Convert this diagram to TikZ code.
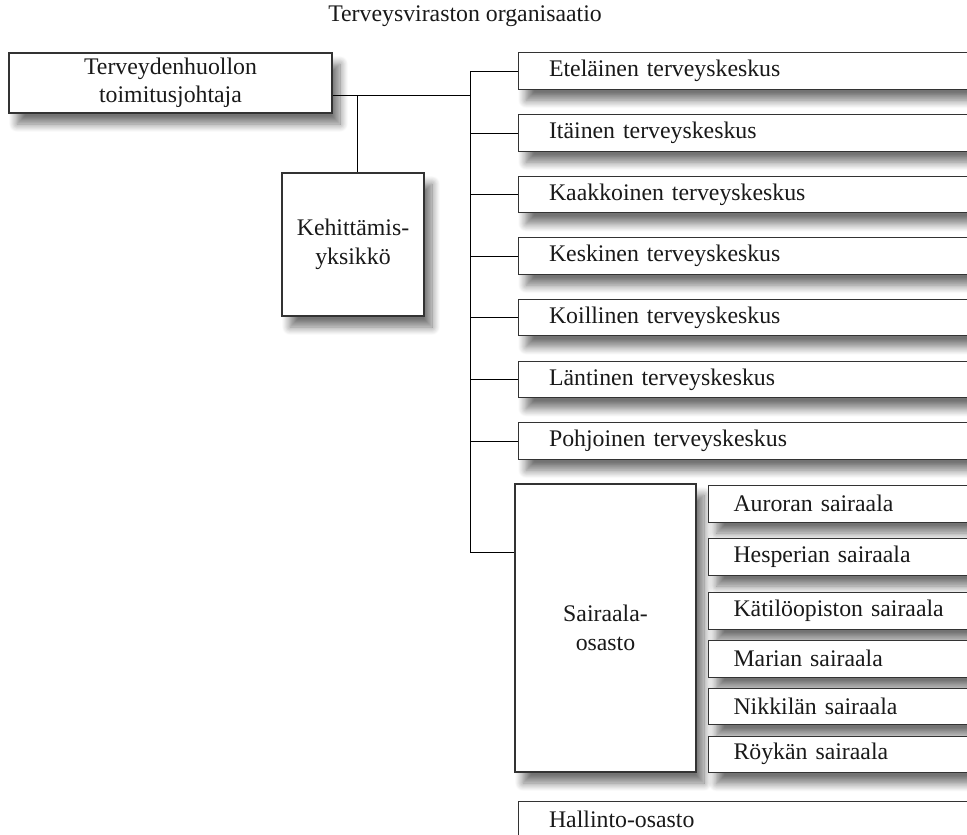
\documentclass[tikz,border=0pt]{standalone}
\usepackage{fontspec}
\setmainfont{Liberation Serif}
\usetikzlibrary{shadows.blur}
\begin{document}
\begin{tikzpicture}[x=1pt,y=-1pt,
  every node/.style={font=\fontsize{23.8}{28.5}\selectfont, text=black!90},
  box/.style={draw=black!80, line width=1.1pt, fill=white, inner sep=0pt,
    blur shadow={shadow xshift=8pt, shadow yshift=-11pt, shadow blur radius=8pt, shadow opacity=55, shadow blur steps=12}},
  cbox/.style={box, align=center},
  wbox/.style={box, anchor=west, minimum width=480pt, minimum height=36.5pt,
    text width=418pt, inner xsep=31pt, align=left},
  hbox/.style={box, anchor=north west, minimum width=300pt, minimum height=36.5pt,
    text width=250pt, inner xsep=25pt, align=left},
  conn/.style={draw=black, line width=1pt}]
\useasboundingbox (0,0) rectangle (967,835);

\node (title) at (465,16) {Terveysviraston organisaatio};

\node[cbox, minimum width=323pt, minimum height=60pt] (top) at (170.5,83)
  {Terveydenhuollon\\toimitusjohtaja};
\node[cbox, minimum width=142pt, minimum height=143pt] (keh) at (353,244.5)
  {Kehittämis-\\yksikkö};

\node[wbox] (ete) at (517.5,71) {Eteläinen terveyskeskus};
\node[wbox] (ita) at (517.5,133) {Itäinen terveyskeskus};
\node[wbox] (kaa) at (517.5,194.5) {Kaakkoinen terveyskeskus};
\node[wbox] (kes) at (517.5,256) {Keskinen terveyskeskus};
\node[wbox] (koi) at (517.5,317.5) {Koillinen terveyskeskus};
\node[wbox] (lan) at (517.5,379.5) {Läntinen terveyskeskus};
\node[wbox] (poh) at (517.5,441) {Pohjoinen terveyskeskus};

\node[cbox, minimum width=181pt, minimum height=288pt] (sair) at (605.5,628)
  {Sairaala-\\osasto};

\node[hbox] (aur) at (708,485) {Auroran sairaala};
\node[hbox] (hes) at (708,538) {Hesperian sairaala};
\node[hbox] (kat) at (708,592) {Kätilöopiston sairaala};
\node[hbox] (mar) at (708,640) {Marian sairaala};
\node[hbox] (nik) at (708,687.5) {Nikkilän sairaala};
\node[hbox] (roy) at (708,735.5) {Röykän sairaala};

\node[wbox, minimum height=36pt] (hal) at (517.5,819.5) {Hallinto-osasto};

\coordinate (j0) at (357,95);
\coordinate (j1) at (470,95);
\coordinate (sj) at (470,552);
\draw[conn] (top.east |- j1) -- (j1);
\draw[conn] (j0) -- (j0 |- keh.north);
\draw[conn] (ete.west) -| (sj) -- (sj -| sair.west);
\foreach \n in {ita,kaa,kes,koi,lan,poh}
  \draw[conn] (\n.west) -- (\n.west -| j1);
\end{tikzpicture}
\end{document}
